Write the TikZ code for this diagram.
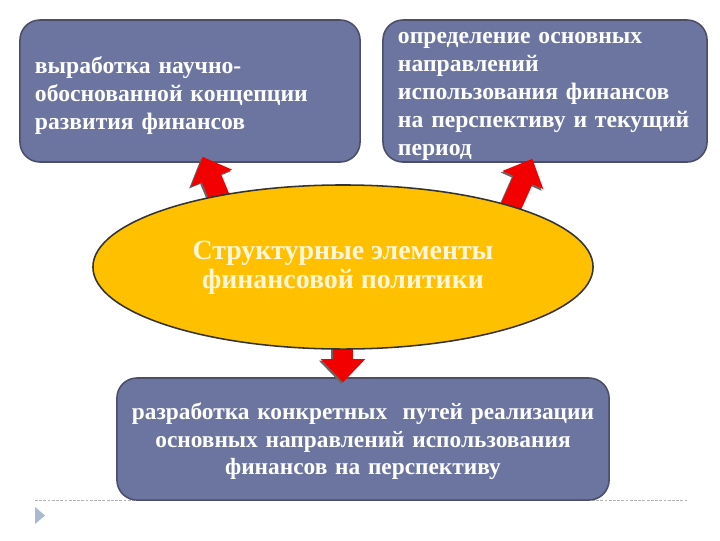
\documentclass[tikz,border=0pt]{standalone}
\usepackage{fontspec}
\setmainfont{Liberation Serif}
\usepackage{tikz}
\usetikzlibrary{arrows.meta,calc,shapes.geometric}
\definecolor{boxblue}{HTML}{6C75A0}
\definecolor{boxedge}{HTML}{4B4E66}
\definecolor{ellgold}{HTML}{FFC000}
\definecolor{elltext}{HTML}{FFF6DA}
\definecolor{arrred}{HTML}{F20000}
\definecolor{markblue}{HTML}{A9BACE}
\pgfdeclarelayer{front}
\pgfsetlayers{main,front}

\begin{document}
\begin{tikzpicture}[x=0.025cm,y=-0.025cm,
	goalbox/.style={draw=boxedge,line width=1.1pt,fill=boxblue,rounded corners=0.5cm,text=white,
		font=\bfseries\fontsize{16.8}{20}\selectfont,inner xsep=0.375cm,inner ysep=0pt,text height=12pt},
	fatarrow/.style={line width=0.52cm,arrred,-{Triangle[length=0.58cm,width=1.08cm]}},
	fatshadow/.style={line width=0.52cm,black!60,-{Triangle[length=0.58cm,width=1.08cm]}}]
	\useasboundingbox (0,0) rectangle (720,540);
	\draw[gray!60,dash pattern=on 2pt off 1pt,thin] (35,500)--(688,500);	%dashed rule
	\fill[markblue] (35,507)--(45,515.5)--(35,524)--cycle;			%slide marker
	
	\node[goalbox,text width=7.75cm,minimum height=3.55cm,align=left,text depth=36.6pt] (lt) at (190,91)
		{выработка научно-\\обоснованной концепции\\развития финансов};
	\node[goalbox,text width=7.35cm,minimum height=3.55cm,align=left,text depth=79.6pt] (rt) at (545,91)
		{определение основных\\направлений\\использования финансов\\на перспективу и текущий\\период};
	\node[goalbox,text width=12cm,inner xsep=0.15cm,minimum height=3.05cm,align=center,text depth=40.2pt,
		font=\bfseries\fontsize{16.6}{19.8}\selectfont] (bt) at (363,439)
		{разработка конкретных\ \ путей реализации\\основных направлений использования\\финансов на перспективу};
	\begin{pgfonlayer}{front}
	\node[ellipse,draw=black!80,line width=1.1pt,fill=ellgold,minimum width=12.5cm,minimum height=4.1cm,inner sep=0pt,
		text=elltext,align=center,font=\bfseries\fontsize{19.8}{20.2}\selectfont,text height=40pt,text depth=10pt] (ell) at (343,267)
		{Структурные элементы\\финансовой политики};
	\end{pgfonlayer}
	
	\draw[fatshadow,shorten <=-0.12cm,transform canvas={xshift=-1.2pt,yshift=-1.2pt}] (ell.150)--($(lt.-80)+(0,-6)$);
	\draw[fatarrow,shorten <=-0.12cm] (ell.150)--($(lt.-80)+(0,-6)$);		%to left box
	\draw[fatshadow,shorten <=-0.12cm,transform canvas={xshift=-1.2pt,yshift=-1.2pt}] (ell.20)--($(rt.-100)+(0,-4)$);
	\draw[fatarrow,shorten <=-0.12cm] (ell.20)--($(rt.-100)+(0,-4)$);		%to right box
	\draw[fatshadow,shorten <=-0.12cm,transform canvas={xshift=-1.2pt,yshift=-1.2pt}] (ell.south)--($(ell.south |- bt.north)+(0,5)$);
	\draw[fatarrow,shorten <=-0.12cm] (ell.south)--($(ell.south |- bt.north)+(0,5)$);	%to bottom box
\end{tikzpicture}
\end{document}
